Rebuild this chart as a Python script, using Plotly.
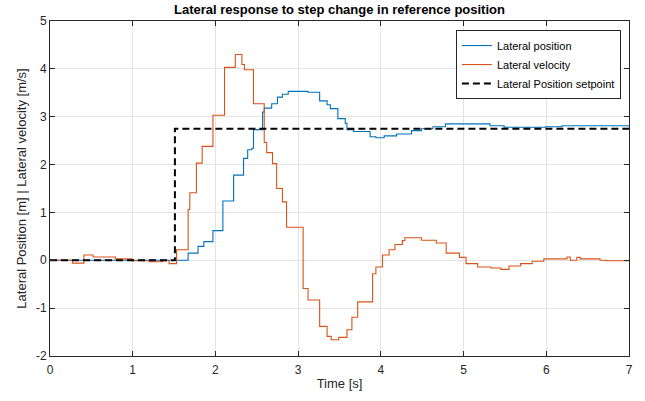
import plotly.graph_objects as go

# Lateral position (blue)
pos_t = [0, 1.67, 1.79, 1.86, 1.97, 2.09, 2.22, 2.34, 2.39, 2.44, 2.46, 2.57, 2.59, 2.68, 2.75, 2.81,
         2.88, 3.12, 3.26, 3.35, 3.39, 3.48, 3.57, 3.59, 3.67, 3.87, 3.94, 4.04, 4.19, 4.37, 4.49,
         4.63, 4.78, 5.32, 5.49, 5.99, 6.19, 7.0]
pos_v = [0, 0.15, 0.29, 0.39, 0.62, 1.24, 1.78, 2.13, 2.31, 2.34, 2.73, 3.1, 3.18, 3.27, 3.41, 3.47,
         3.53, 3.51, 3.33, 3.25, 3.17, 2.96, 2.86, 2.73, 2.69, 2.58, 2.56, 2.6, 2.64, 2.71, 2.75,
         2.79, 2.85, 2.81, 2.78, 2.79, 2.81, 2.81]

# Lateral velocity (orange)
vel_t = [0, 0.27, 0.41, 0.52, 0.79, 0.99, 1.2, 1.36, 1.44, 1.53, 1.67, 1.69, 1.77, 1.84, 1.97, 2.11,
         2.24, 2.32, 2.35, 2.46, 2.59, 2.62, 2.69, 2.74, 2.81, 2.86, 3.06, 3.12, 3.26, 3.35, 3.4,
         3.49, 3.59, 3.65, 3.72, 3.9, 3.94, 4.02, 4.1, 4.17, 4.26, 4.29, 4.49, 4.67, 4.79, 4.95,
         5.03, 5.17, 5.33, 5.45, 5.55, 5.69, 5.83, 5.97, 6.25, 6.29, 6.37, 6.41, 6.65, 6.73, 7.0]
vel_v = [0.0, -0.06, 0.11, 0.07, 0.03, -0.01, -0.03, -0.01, -0.07, 0.22, 1.06, 1.41, 2.03, 2.38, 3.03,
         4.03, 4.3, 4.09, 3.98, 3.27, 2.46, 2.25, 2.02, 1.5, 1.22, 0.69, -0.59, -0.83, -1.38, -1.59,
         -1.66, -1.61, -1.45, -1.19, -0.87, -0.28, -0.14, 0.11, 0.22, 0.33, 0.41, 0.47, 0.42, 0.36,
         0.15, 0.06, -0.07, -0.14, -0.16, -0.19, -0.12, -0.07, -0.02, 0.03, 0.07, 0.0, 0.06, 0.03,
         0.0, -0.01, -0.01]

# Setpoint
sp_t = [0, 1.51, 7.0]
sp_v = [0, 2.75, 2.75]

x_ticks = [0, 1, 2, 3, 4, 5, 6, 7]
x_tick_labels = ["0", "1", "2", "3", "4", "5", "6", "7"]
y_ticks = [-2, -1, 0, 1, 2, 3, 4, 5]
y_tick_labels = ["-2", "-1", "0", "1", "2", "3", "4", "5"]

FONT = "Liberation Sans, Arial, sans-serif"
AX = "#262626"

fig = go.Figure()
fig.add_trace(go.Scatter(x=pos_t, y=pos_v, mode="lines", line_shape="hv",
                         line=dict(color="#0072BD", width=1.1), name="Lateral position"))
fig.add_trace(go.Scatter(x=vel_t, y=vel_v, mode="lines", line_shape="hv",
                         line=dict(color="#D95319", width=1.1), name="Lateral velocity"))
fig.add_trace(go.Scatter(x=sp_t, y=sp_v, mode="lines", line_shape="hv",
                         line=dict(color="black", width=2, dash="7px,4px"),
                         name="Lateral Position setpoint"))

axis_common = dict(showline=True, linecolor=AX, linewidth=1, mirror="ticks",
                   ticks="inside", ticklen=5, tickcolor=AX, tickwidth=1,
                   showgrid=True, gridcolor="#e3e3e3", gridwidth=1, zeroline=False,
                   tickfont=dict(family=FONT, size=12, color=AX))

fig.update_layout(
    width=645, height=401,
    margin=dict(l=50, r=12.5, t=21, b=44),
    paper_bgcolor="white", plot_bgcolor="white",
    font=dict(family=FONT, color=AX),
    title=dict(text="<b>Lateral response to step change in reference position</b>",
               x=0.5, xref="paper", xanchor="center", y=0.976, yanchor="middle",
               font=dict(family=FONT, size=13, color="black")),
    xaxis=dict(range=[0, 7], tickvals=x_ticks, ticktext=x_tick_labels, ticklabelstandoff=3,
               title=dict(text="Time [s]", font=dict(family=FONT, size=13, color=AX), standoff=2),
               **axis_common),
    yaxis=dict(range=[-2, 5], tickvals=y_ticks, ticktext=y_tick_labels,
               title=dict(text="Lateral Position [m] | Lateral velocity [m/s]",
                          font=dict(family=FONT, size=13, color=AX), standoff=6),
               **axis_common),
    legend=dict(x=0.986, y=0.973, xanchor="right", yanchor="top",
                bgcolor="white", bordercolor=AX, borderwidth=1,
                font=dict(family=FONT, size=11, color="black"),
                tracegroupgap=0, itemwidth=30),
    showlegend=True,
)

fig.write_html("out.html")
